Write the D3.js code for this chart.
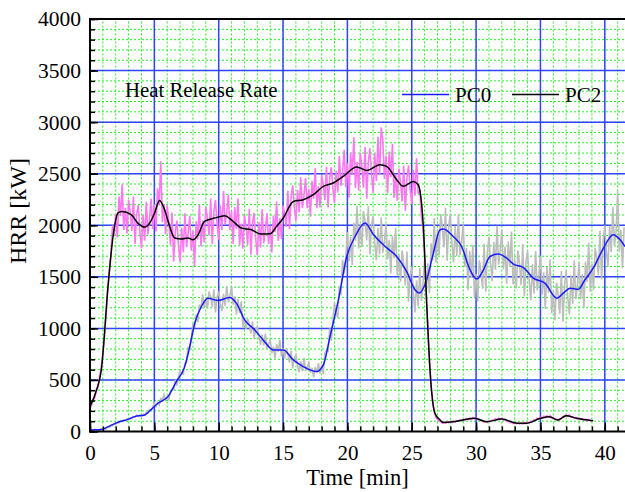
<!DOCTYPE html>
<meta charset="utf-8">
<head>
  <title>Heat Release Rate</title>
</head>
<style>
  html, body {
    margin: 0;
    padding: 0;
    background: #fff;
    overflow: hidden;
  }
  svg text {
    font-family: "Liberation Serif", "Times New Roman", serif;
    fill: #000;
  }
</style>
<body>
<svg id="chart" width="625" height="492"></svg>
<script src="https://d3js.org/d3.v7.min.js"></script>
<script>
// raw samples every 0.125 min from t = 0, one line per minute
var rawStep = 0.125;

var pc2Raw = [
  210, 260, 300, 330, 400, 430, 540, 620,
  760, 920, 1120, 1380, 1560, 1720, 2000, 1895,
  2110, 1885, 2279, 2088, 2398, 1954, 2169, 1920,
  2244, 2128, 1944, 2278, 1818, 2106, 2196, 1939,
  1775, 2098, 1850, 2227, 1910, 2062, 2260, 1965,
  2203, 1940, 2359, 2194, 2620, 2029, 2209, 1912,
  2192, 2032, 1811, 2123, 1648, 1940, 2046, 1802,
  1646, 1976, 1738, 2116, 1788, 1919, 2090, 1754,
  1947, 1600, 2039, 1861, 2199, 1794, 2049, 1834,
  2177, 2072, 1901, 2258, 1821, 2133, 2247, 2009,
  1859, 2193, 1955, 2332, 2004, 2129, 2295, 1952,
  2140, 1818, 2176, 1964, 2259, 1806, 2017, 1772,
  2100, 1987, 1808, 2157, 1714, 2016, 2119, 1870,
  1709, 2032, 1784, 2156, 1826, 1959, 2116, 1817,
  1998, 1735, 2095, 1932, 2229, 1848, 2068, 1868,
  2188, 2115, 1985, 2335, 1965, 2270, 2388, 2176,
  2040, 2342, 2124, 2465, 2167, 2290, 2458, 2166,
  2354, 2082, 2430, 2258, 2552, 2166, 2380, 2173,
  2486, 2397, 2243, 2568, 2173, 2458, 2563, 2348,
  2217, 2528, 2319, 2670, 2381, 2511, 2731, 2368,
  2605, 2268, 2705, 2492, 2853, 2362, 2615, 2335,
  2702, 2570, 2363, 2759, 2257, 2613, 2746, 2480,
  2314, 2697, 2429, 2859, 2487, 2950, 2832, 2452,
  2672, 2310, 2715, 2465, 2790, 2265, 2492, 2237,
  2550, 2422, 2231, 2576, 2140, 2458, 2580, 2349,
  2202, 2535, 2286, 2650, 2305, 2344, 2080, 1980,
  1700, 1350, 1000, 680, 440, 280, 190, 140,
  115, 100, 95, 82, 92, 80, 96, 85,
  98, 88, 102, 92, 105, 98, 112, 102,
  118, 108, 124, 114, 130, 118, 134, 122,
  130, 116, 118, 102, 106, 90, 98, 88,
  102, 96, 112, 106, 124, 114, 130, 118,
  126, 110, 116, 98, 100, 86, 90, 76,
  84, 74, 84, 74, 82, 72, 86, 76,
  88, 84, 100, 96, 114, 110, 128, 120,
  136, 130, 148, 136, 152, 140, 154, 132,
  136, 116, 122, 106, 124, 124, 146, 142,
  162, 148, 160, 138, 146, 128, 136, 122,
  130, 116, 124, 110, 118, 104, 112, 100,
  106
];

var pc0Raw = [
  10, 20, 12, 22, 14, 18, 12, 24,
  18, 28, 26, 42, 40, 58, 54, 72,
  70, 88, 86, 102, 96, 112, 106, 124,
  114, 130, 124, 146, 138, 158, 146, 164,
  150, 168, 158, 184, 178, 212, 205, 240,
  275, 245, 284, 255, 319, 304, 358, 308,
  343, 309, 394, 404, 407, 501, 446, 532,
  590, 565, 555, 657, 670, 815, 803, 910,
  1050, 1005, 1132, 1060, 1231, 1189, 1331, 1196,
  1297, 1191, 1358, 1301, 1208, 1379, 1154, 1305,
  1358, 1239, 1166, 1335, 1219, 1411, 1251, 1320,
  1405, 1230, 1312, 1135, 1287, 1148, 1262, 1012,
  1101, 993, 1093, 1033, 952, 1067, 900, 994,
  1019, 916, 840, 940, 832, 950, 813, 844,
  892, 760, 823, 710, 846, 774, 886, 727,
  807, 708, 808, 748, 669, 784, 612, 714,
  744, 644, 575, 682, 584, 713, 586, 628,
  666, 570, 618, 528, 625, 569, 662, 562,
  650, 556, 760, 790, 780, 1000, 880, 1090,
  1250, 1155, 1100, 1405, 1320, 1665, 1530, 1690,
  1935, 1650, 1888, 1615, 2024, 1851, 2189, 1774,
  2012, 1787, 2137, 2043, 1856, 2183, 1718, 2001,
  2088, 1829, 1660, 1975, 1718, 2077, 1732, 1846,
  2010, 1668, 1853, 1532, 1894, 1681, 1972, 1514,
  1714, 1452, 1757, 1622, 1416, 1746, 1258, 1516,
  1601, 1334, 1154, 1465, 1213, 1584, 1267, 1434,
  1670, 1335, 1630, 1340, 1825, 1660, 2070, 1640,
  1950, 1710, 2108, 1988, 1785, 2170, 1655, 1995,
  2110, 1825, 1640, 1995, 1700, 2105, 1710, 1844,
  2010, 1595, 1780, 1370, 1750, 1490, 1810, 1290,
  1530, 1260, 1660, 1560, 1385, 1820, 1355, 1735,
  1890, 1625, 1458, 1839, 1568, 1995, 1620, 1762,
  1955, 1573, 1790, 1431, 1843, 1602, 1938, 1425,
  1668, 1387, 1756, 1625, 1421, 1817, 1310, 1645,
  1755, 1465, 1272, 1625, 1335, 1750, 1368, 1510,
  1705, 1325, 1544, 1188, 1595, 1345, 1670, 1145,
  1372, 1080, 1443, 1325, 1140, 1555, 1065, 1427,
  1562, 1299, 1136, 1515, 1238, 1659, 1280, 1430,
  1638, 1280, 1525, 1198, 1647, 1450, 1830, 1355,
  1625, 1375, 1780, 1685, 1515, 1947, 1475, 1850,
  2000, 1750, 1598, 1995, 1740, 2180, 1800, 1940,
  2330, 1743, 1955, 1580, 1980
];

// smoothed curves, [time, kW]
var pc2Smooth = [
  [0, 240], [0.5, 400], [0.88, 597], [1.4, 1406], [1.79, 1891], [2.18, 2120], [2.47, 2134],
  [3.2, 2102], [3.72, 2021], [4.24, 1982], [4.64, 2021], [5.02, 2118], [5.4, 2241], [5.8, 2150],
  [6.19, 1988], [6.58, 1876], [7.1, 1866], [7.61, 1876], [8.0, 1859], [8.4, 1908], [8.9, 2037],
  [9.69, 2070], [10.47, 2092], [10.98, 2053], [11.76, 1973], [12.54, 1956], [13.3, 1914],
  [13.99, 1917], [14.5, 1989], [15.02, 2070], [15.8, 2231], [16.57, 2247], [17.35, 2296],
  [18.13, 2377], [18.9, 2410], [19.68, 2474], [20.72, 2565], [21.5, 2532], [22.53, 2587],
  [23.05, 2571], [23.83, 2442], [24.34, 2377], [25.12, 2425], [25.5, 2393], [25.9, 1989],
  [26.16, 1245], [26.42, 597], [26.8, 177], [27.2, 112], [27.45, 88], [28.2, 95], [29.0, 112],
  [29.9, 128], [30.8, 95], [32.0, 121], [33.2, 80], [33.9, 80], [35.0, 128], [35.7, 144],
  [36.35, 112], [37.0, 153], [37.8, 128], [39.1, 105]
];

var pc0Smooth = [
  [0, 15], [0.88, 19], [1.4, 47], [2.18, 89], [2.95, 118], [3.47, 144], [4.25, 160], [4.77, 215],
  [5.28, 274], [6.06, 338], [6.71, 483], [7.36, 629], [7.75, 823], [8.14, 1050], [8.65, 1212],
  [9.17, 1293], [9.95, 1270], [10.85, 1299], [11.37, 1245], [12.02, 1083], [12.8, 985],
  [13.5, 880], [14.24, 791], [15.02, 791], [15.8, 694], [16.57, 629], [17.6, 581], [18.13, 646],
  [18.65, 920], [19.3, 1277], [19.95, 1697], [20.6, 1891], [21.37, 2021], [22.03, 1908],
  [22.94, 1794], [23.83, 1697], [24.61, 1551], [25.25, 1374], [25.6, 1342], [26.16, 1471],
  [26.68, 1730], [27.2, 1956], [27.45, 1963], [28.23, 1891], [28.87, 1794], [29.53, 1568],
  [30.05, 1478], [30.57, 1568], [31.08, 1697], [31.73, 1720], [32.37, 1681], [32.9, 1623],
  [33.68, 1590], [34.45, 1487], [35.35, 1439], [36.26, 1293], [36.78, 1342], [37.3, 1390],
  [37.95, 1380], [38.46, 1471], [39.1, 1584], [39.9, 1779], [40.65, 1908], [41.19, 1859],
  [41.57, 1794]
];

var xMajor = [0, 5, 10, 15, 20, 25, 30, 35, 40];
var yMajor = [0, 500, 1000, 1500, 2000, 2500, 3000, 3500, 4000];
var legendNames = ["PC0", "PC2"];

var serif = '"Liberation Serif", "Times New Roman", serif';
var svg = d3.select("#chart");
var x = d3.scaleLinear().domain([0, 41.57]).range([90, 625]);
var y = d3.scaleLinear().domain([0, 4000]).range([431.5, 19]);

var xMinor = d3.range(0, 42, 1);
var yMinor = d3.range(0, 4001, 100);

// minor grid (green dotted)
var grid = svg.append("g");
grid.selectAll("line.mx").data(xMinor).enter().append("line")
  .attr("x1", function(d) { return x(d) }).attr("x2", function(d) { return x(d) })
  .attr("y1", y(0)).attr("y2", y(4000))
  .attr("stroke", "#22ee22").attr("stroke-width", 1).attr("stroke-dasharray", "2,2");
grid.selectAll("line.my").data(yMinor).enter().append("line")
  .attr("y1", function(d) { return y(d) }).attr("y2", function(d) { return y(d) })
  .attr("x1", x(0)).attr("x2", 625)
  .attr("stroke", "#22ee22").attr("stroke-width", 1).attr("stroke-dasharray", "2,2");

// major grid (blue)
grid.selectAll("line.Mx").data(xMajor.slice(1)).enter().append("line")
  .attr("x1", function(d) { return x(d) }).attr("x2", function(d) { return x(d) })
  .attr("y1", y(0)).attr("y2", y(4000))
  .attr("stroke", "#3344ff").attr("stroke-width", 1.5);
grid.selectAll("line.My").data(yMajor.slice(1, -1)).enter().append("line")
  .attr("y1", function(d) { return y(d) }).attr("y2", function(d) { return y(d) })
  .attr("x1", x(0)).attr("x2", 625)
  .attr("stroke", "#3344ff").attr("stroke-width", 1.5);

svg.append("clipPath").attr("id", "plotclip").append("rect")
  .attr("x", 90).attr("y", 19).attr("width", 535).attr("height", 412.5);

var plot = svg.append("g").attr("clip-path", "url(#plotclip)");

var rawLine = d3.line()
  .x(function(d, i) { return x(i * rawStep) })
  .y(function(d) { return y(d) });
var smoothLine = d3.line()
  .x(function(d) { return x(d[0]) })
  .y(function(d) { return y(d[1]) })
  .curve(d3.curveMonotoneX);

plot.append("path").datum(pc0Raw).attr("d", rawLine)
  .attr("fill", "none").attr("stroke", "#bdbdbd").attr("stroke-width", 1.6);
plot.append("path").datum(pc0Smooth).attr("d", smoothLine)
  .attr("fill", "none").attr("stroke", "#1a1aff").attr("stroke-width", 1.5);
plot.append("path").datum(pc2Raw).attr("d", rawLine)
  .attr("fill", "none").attr("stroke", "#ff78f2").attr("stroke-width", 1.6);
plot.append("path").datum(pc2Smooth).attr("d", smoothLine)
  .attr("fill", "none").attr("stroke", "#000").attr("stroke-width", 1.5);

// axes, ticks inward
function styleAxis(size) {
  return function(g) {
    g.attr("font-family", serif).attr("font-size", size);
    g.select(".domain").remove();
    g.selectAll(".tick line").attr("stroke", "#000").attr("stroke-width", 1.5);
    g.selectAll(".tick text").attr("fill", "#000")
      .style("font-family", serif).style("font-size", size + "px");
  };
}

svg.append("g").attr("transform", "translate(90,0)")
  .call(d3.axisLeft(y).tickValues(yMinor).tickSize(-5).tickFormat(""))
  .call(styleAxis(21));
svg.append("g").attr("transform", "translate(90,0)")
  .call(d3.axisLeft(y).tickValues(yMajor).tickSizeInner(-8).tickSizeOuter(0).tickPadding(9)
    .tickFormat(d3.format("d")))
  .call(styleAxis(21.5));

svg.append("g").attr("transform", "translate(0,431.5)")
  .call(d3.axisBottom(x).tickValues(xMinor).tickSize(-5).tickFormat(""))
  .call(styleAxis(21));
svg.append("g").attr("transform", "translate(0,431.5)")
  .call(d3.axisBottom(x).tickValues(xMajor).tickSizeInner(-9).tickSizeOuter(0).tickPadding(13.5)
    .tickFormat(d3.format("d")))
  .call(styleAxis(21));

// frame
svg.append("line").attr("x1", 90).attr("x2", 90).attr("y1", 18).attr("y2", 432.5)
  .attr("stroke", "#000").attr("stroke-width", 2);
svg.append("line").attr("x1", 89).attr("x2", 625).attr("y1", 431.5).attr("y2", 431.5)
  .attr("stroke", "#000").attr("stroke-width", 2);
svg.append("line").attr("x1", 89).attr("x2", 625).attr("y1", 19).attr("y2", 19)
  .attr("stroke", "#000").attr("stroke-width", 2);

// titles
svg.append("text").attr("x", 357.5).attr("y", 485).attr("text-anchor", "middle")
  .style("font-size", "22.5px").text("Time [min]");
svg.append("text").attr("transform", "translate(26,211) rotate(-90)").attr("text-anchor", "middle")
  .style("font-size", "24px").text("HRR  [kW]");
svg.append("text").attr("x", 125).attr("y", 97)
  .style("font-size", "20.8px").text("Heat Release Rate");

// legend
var legendColors = ["#1a1aff", "#000"];
var legendX = [402, 512];
legendNames.forEach(function(name, i) {
  svg.append("line").attr("x1", legendX[i]).attr("x2", legendX[i] + 47)
    .attr("y1", 94.5).attr("y2", 94.5)
    .attr("stroke", legendColors[i]).attr("stroke-width", 1.5);
  svg.append("text").attr("x", legendX[i] + 53).attr("y", 102)
    .style("font-size", "21px").text(name);
});
</script>
</body>
